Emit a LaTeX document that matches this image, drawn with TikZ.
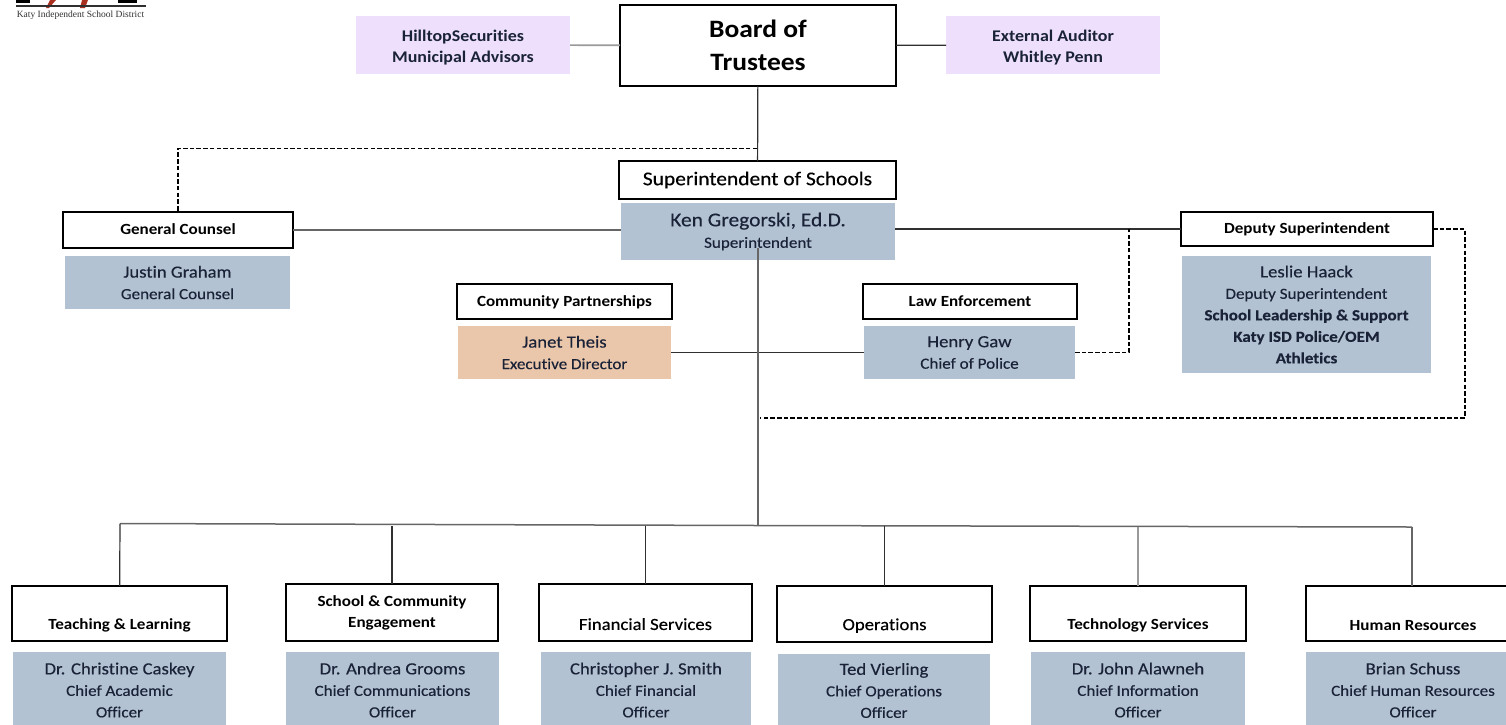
\documentclass[tikz,border=0pt]{standalone}
\usepackage{fontspec}
\setmainfont{Carlito}[FakeStretch=1.1, Ligatures=NoCommon]
\newfontfamily\softfont{Carlito}[FakeStretch=1.1, FakeBold=0.3, Ligatures=NoCommon]
\newfontfamily\logofont{Liberation Serif}
\usetikzlibrary{positioning}

\definecolor{namefill}{HTML}{B2C2D2}
\definecolor{advisorfill}{HTML}{EEE0FC}
\definecolor{partnerfill}{HTML}{EAC6AA}
\definecolor{inktext}{HTML}{1A2238}
\definecolor{darkline}{HTML}{303030}
\definecolor{midline}{HTML}{666666}
\definecolor{greyline}{HTML}{9A9A9A}
\definecolor{logored}{HTML}{A83020}

\newcommand{\bigname}{\fontsize{17}{22}\selectfont}
\newcommand{\smallrole}{\softfont\fontsize{15.5}{21.5}\selectfont}
\newcommand{\headname}{\fontsize{15.5}{21}\selectfont\bfseries}

\tikzset{
	headbox/.style={draw=black, line width=1.1pt, fill=white, align=center, inner sep=0pt, outer sep=0pt, text=black, font=\headname},
	oneline/.style={text height=11pt, text depth=2pt},
	namebox/.style={fill=namefill, align=center, inner sep=0pt, outer sep=0pt, text=inktext, font=\smallrole},
	advisorbox/.style={namebox, fill=advisorfill, font=\fontsize{16.3}{21}\selectfont\bfseries},
	darkedge/.style={draw=darkline, line width=1.2pt},
	busedge/.style={draw=midline, line width=1.5pt},
	greyedge/.style={draw=greyline, line width=1.6pt},
	dashedge/.style={draw=black, line width=1.1pt, dash pattern=on 4.5pt off 2.2pt}
}

\begin{document}
\begin{tikzpicture}[x=1pt, y=-1pt]
	\useasboundingbox (0,0) rectangle (1506,724);
	\clip (0,0) rectangle (1506,724);

	\fill[black] (16,0) rectangle (30,3);
	\fill[black] (118,0) rectangle (137,3);
	\fill[logored] (46,8) -- (49,8) -- (56,0) -- (50,0) -- cycle;
	\fill[logored] (80,8) -- (85,8) -- (88,0) -- (82,0) -- cycle;
	\draw[darkline, line width=1.5pt] (16,6) -- (146,6);
	\node[inner sep=0pt, text=darkline, font=\logofont\fontsize{9.5}{10}\selectfont] (logotext) at (80.5,15) {Katy Independent School District};

	\node[headbox, minimum width=276pt, minimum height=81pt, font=\fontsize{25}{33}\selectfont\bfseries] (board) at (758,45.5) {Board of\\Trustees};
	\node[advisorbox, minimum width=214pt, minimum height=58pt] (hilltop) at (463,45) {~\\[-5pt]HilltopSecurities\\Municipal Advisors};
	\node[advisorbox, minimum width=214pt, minimum height=58pt] (auditor) at (1053,45) {~\\[-5pt]External Auditor\\Whitley Penn};

	\node[headbox, minimum width=277pt, minimum height=38pt, font=\softfont\fontsize{19.5}{24}\selectfont] (super) at (757.5,180) {Superintendent of Schools};
	\node[namebox, minimum width=274pt, minimum height=57pt] (ken) at (758,231.5) {{\fontsize{19.5}{24}\selectfont Ken Gregorski, Ed.D.}\\Superintendent};

	\node[headbox, oneline, minimum width=230pt, minimum height=36pt] (counsel) at (178,230) {General Counsel};
	\node[namebox, minimum width=225pt, minimum height=53pt] (justin) at (177.5,282.5) {{\bigname Justin Graham}\\General Counsel};

	\node[headbox, oneline, minimum width=215pt, minimum height=35pt] (partners) at (564.5,301.5) {Community Partnerships};
	\node[namebox, fill=partnerfill, minimum width=213pt, minimum height=53pt] (janet) at (564.5,352.5) {{\bigname Janet Theis}\\Executive Director};

	\node[headbox, oneline, minimum width=214pt, minimum height=35pt] (law) at (970,301.5) {Law Enforcement};
	\node[namebox, minimum width=211pt, minimum height=53pt] (henry) at (969.5,352.5) {{\bigname Henry Gaw}\\Chief of Police};

	\node[headbox, oneline, minimum width=252pt, minimum height=34pt] (deputy) at (1307,229) {Deputy Superintendent};
	\node[namebox, minimum width=249pt, minimum height=117pt] (leslie) at (1306.5,314.5) {{\bigname Leslie Haack}\\Deputy Superintendent\\\textbf{School Leadership \& Support}\\\textbf{Katy ISD Police/OEM}\\\textbf{Athletics}};

	\node[headbox, minimum width=215pt, minimum height=55pt] (teaching) at (119.5,613.5) {~\\[14pt]Teaching \& Learning};
	\node[headbox, minimum width=212pt, minimum height=57pt] (community) at (392,612.5) {School \& Community\\Engagement};
	\node[headbox, minimum width=213pt, minimum height=57pt, font=\softfont\fontsize{17}{21}\selectfont] (financial) at (645.5,612.5) {~\\[14pt]Financial Services};
	\node[headbox, minimum width=215pt, minimum height=56pt, font=\softfont\fontsize{17}{21}\selectfont] (operations) at (884.5,614) {~\\[14pt]Operations};
	\node[headbox, minimum width=216pt, minimum height=55pt] (technology) at (1138,613.5) {~\\[14pt]Technology Services};
	\node[headbox, minimum width=214pt, minimum height=55pt] (human) at (1413,613.5) {~\\[14pt]Human Resources};

	\node[namebox, minimum width=213pt, minimum height=76pt, anchor=north] (caskey) at (119.5,652) {{\bigname Dr. Christine Caskey}\\Chief Academic\\Officer};
	\node[namebox, minimum width=213pt, minimum height=76pt, anchor=north] (grooms) at (392.5,652) {{\bigname Dr. Andrea Grooms}\\Chief Communications\\Officer};
	\node[namebox, minimum width=210pt, minimum height=76pt, anchor=north] (smith) at (646,652) {{\bigname Christopher J. Smith}\\Chief Financial\\Officer};
	\node[namebox, minimum width=212pt, minimum height=73pt, anchor=north] (vierling) at (884,654) {{\bigname Ted Vierling}\\Chief Operations\\Officer};
	\node[namebox, minimum width=214pt, minimum height=76pt, anchor=north] (alawneh) at (1138,652) {{\bigname Dr. John Alawneh}\\Chief Information\\Officer};
	\node[namebox, minimum width=214pt, minimum height=76pt, anchor=north] (schuss) at (1413,652) {{\bigname Brian Schuss}\\Chief Human Resources\\Officer};

	\coordinate (dashtop) at (757,148.5);
	\coordinate (kenstem) at (758,248);
	\coordinate (bus) at (758,525.5);
	\coordinate (busleft) at (120,523.5);
	\coordinate (busright) at (1412,527);
	\coordinate (lawjoin) at (1129,229);
	\coordinate (deputyjoin) at (760,418);

	\draw[greyedge] (hilltop) -- (board);
	\draw[darkedge] (board) -- (auditor);
	\draw[darkedge] (board) -- (super);
	\draw[dashedge] (dashtop) -| (counsel);
	\draw[busedge] (counsel.east) -- (ken.west |- counsel.east);
	\draw[darkedge] (ken.east |- lawjoin) -- (deputy.west);
	\draw[dashedge] (henry.east) -| (lawjoin);
	\draw[dashedge] (deputy.east) -| ++(32,94.5) |- (deputyjoin);
	\draw[darkedge] (janet) -- (henry);
	\draw[busedge] (kenstem) -- (bus);
	\draw[busedge] (busleft) -- (bus) -- (busright);
	\draw[darkedge] (teaching) -- (busleft);
	\draw[darkedge] (community) -- (community |- bus);
	\draw[darkedge] (financial) -- (financial |- bus);
	\draw[darkedge] (operations) -- (operations |- bus);
	\draw[greyedge] (technology) -- (technology |- busright);
	\draw[busedge] (human.north -| busright) -- (busright);
\end{tikzpicture}
\end{document}
